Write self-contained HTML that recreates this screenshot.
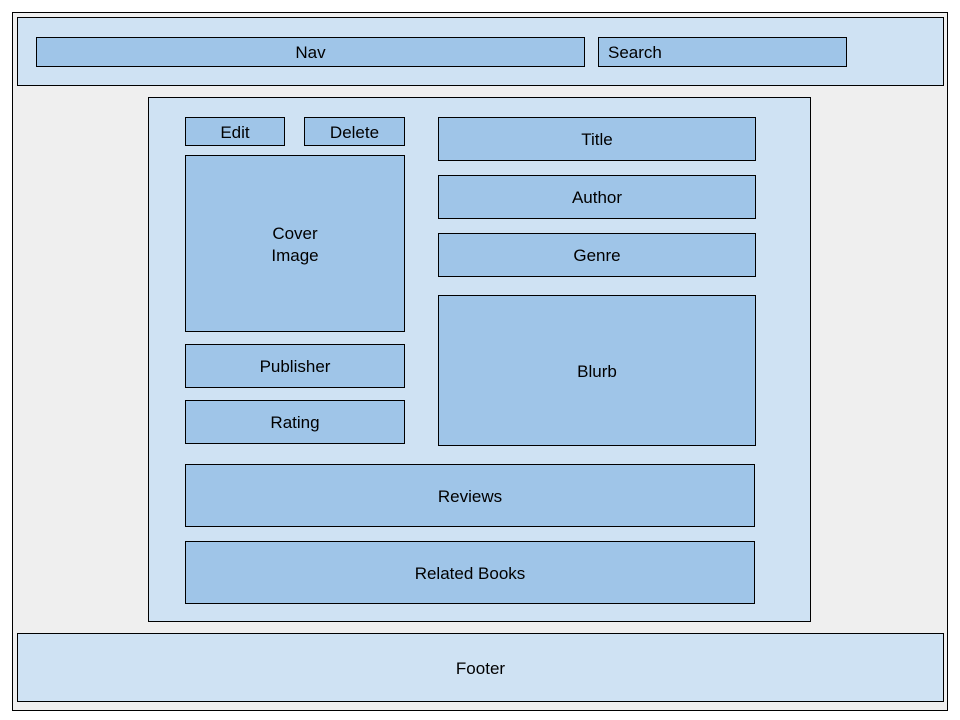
<!DOCTYPE html>
<html><head><style>
body{margin:0;width:960px;height:720px;background:#fff;position:relative;overflow:hidden;font-family:"Liberation Sans",Arial,sans-serif;font-size:17px;color:#000}
div{position:absolute;box-sizing:border-box;border:1px solid #000;display:flex;align-items:center;justify-content:center;text-align:center;line-height:22px;padding-top:2px}
.l{background:#cfe2f3}.m{background:#9fc5e8}
</style></head><body>
<div style="left:12px;top:12px;width:936px;height:699px;background:#efefef"></div>
<div class="l" style="left:17px;top:17px;width:927px;height:69px"></div>
<div class="m" style="left:36px;top:37px;width:549px;height:30px">Nav</div>
<div class="m" style="left:598px;top:37px;width:249px;height:30px;justify-content:flex-start;padding-left:9px">Search</div>
<div class="l" style="left:148px;top:97px;width:663px;height:525px"></div>
<div class="m" style="left:185px;top:117px;width:100px;height:29px">Edit</div>
<div class="m" style="left:304px;top:117px;width:101px;height:29px">Delete</div>
<div class="m" style="left:185px;top:155px;width:220px;height:177px">Cover<br>Image</div>
<div class="m" style="left:185px;top:344px;width:220px;height:44px">Publisher</div>
<div class="m" style="left:185px;top:400px;width:220px;height:44px">Rating</div>
<div class="m" style="left:438px;top:117px;width:318px;height:44px">Title</div>
<div class="m" style="left:438px;top:175px;width:318px;height:44px">Author</div>
<div class="m" style="left:438px;top:233px;width:318px;height:44px">Genre</div>
<div class="m" style="left:438px;top:295px;width:318px;height:151px">Blurb</div>
<div class="m" style="left:185px;top:464px;width:570px;height:63px">Reviews</div>
<div class="m" style="left:185px;top:541px;width:570px;height:63px">Related Books</div>
<div class="l" style="left:17px;top:633px;width:927px;height:69px">Footer</div>
</body></html>
